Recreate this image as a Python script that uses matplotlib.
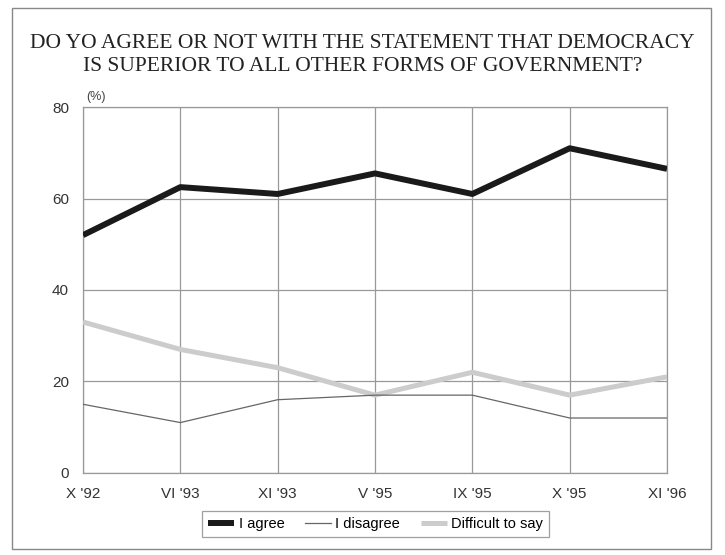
import matplotlib
matplotlib.use("Agg")
import matplotlib.pyplot as plt
from matplotlib.patches import Rectangle

periods = ["X '92", "VI '93", "XI '93", "V '95", "IX '95", "X '95", "XI '96"]
agree = [52, 62.5, 61, 65.5, 61, 71, 66.5]
disagree = [15, 11, 16, 17, 17, 12, 12]
difficult = [33, 27, 23, 17, 22, 17, 21]
y_ticks = [0, 20, 40, 60, 80]

fig = plt.figure(figsize=(7.25, 5.55), dpi=100)
fig.patch.set_facecolor("white")
fig.add_artist(Rectangle((0.017, 0.01), 0.963, 0.975, transform=fig.transFigure,
                         fill=False, edgecolor="#888888", linewidth=1))

ax = fig.add_axes([0.1145, 0.148, 0.8055, 0.659])
x = list(range(len(periods)))

ax.plot(x, difficult, color="#cccccc", linewidth=3.6, solid_capstyle="butt",
        label="Difficult to say", zorder=3)
ax.plot(x, disagree, color="#666666", linewidth=0.9, label="I disagree", zorder=4)
ax.plot(x, agree, color="#1a1a1a", linewidth=4.3, solid_capstyle="butt",
        label="I agree", zorder=5)

ax.set_xlim(0, len(periods) - 1)
ax.set_ylim(0, 80)
ax.set_yticks(y_ticks)
ax.set_xticks(x)
ax.set_xticklabels(periods, family="Liberation Sans", fontsize=11, color="#333333")
ax.set_yticklabels([str(v) for v in y_ticks], family="Liberation Sans",
                   fontsize=11, color="#333333")
ax.tick_params(length=0, pad=10)
ax.tick_params(axis="x", pad=10)
ax.grid(True, color="#999999", linewidth=0.9)
for s in ax.spines.values():
    s.set_color("#999999")
    s.set_linewidth(0.9)

ax.text(0.005, 1.01, "(%)", transform=ax.transAxes, family="Liberation Sans",
        fontsize=9, color="#444444", ha="left", va="bottom")

fig.text(0.5, 0.901, "DO YO AGREE OR NOT WITH THE STATEMENT THAT DEMOCRACY\n"
         "IS SUPERIOR TO ALL OTHER FORMS OF GOVERNMENT?",
         family="Liberation Serif", fontsize=15.5, ha="center", va="center",
         color="#222222", linespacing=1.25)

handles, labels = ax.get_legend_handles_labels()
order = [2, 1, 0]
leg = fig.legend([handles[i] for i in order], [labels[i] for i in order],
                 loc="center", bbox_to_anchor=(0.518, 0.056), ncol=3,
                 frameon=True, fancybox=False, edgecolor="#888888",
                 prop={"family": "Liberation Sans", "size": 10.5},
                 handlelength=1.8, handletextpad=0.3, columnspacing=1.4,
                 borderpad=0.4)
leg.get_frame().set_linewidth(0.9)

fig.savefig("out.png", dpi=100, facecolor="white")
